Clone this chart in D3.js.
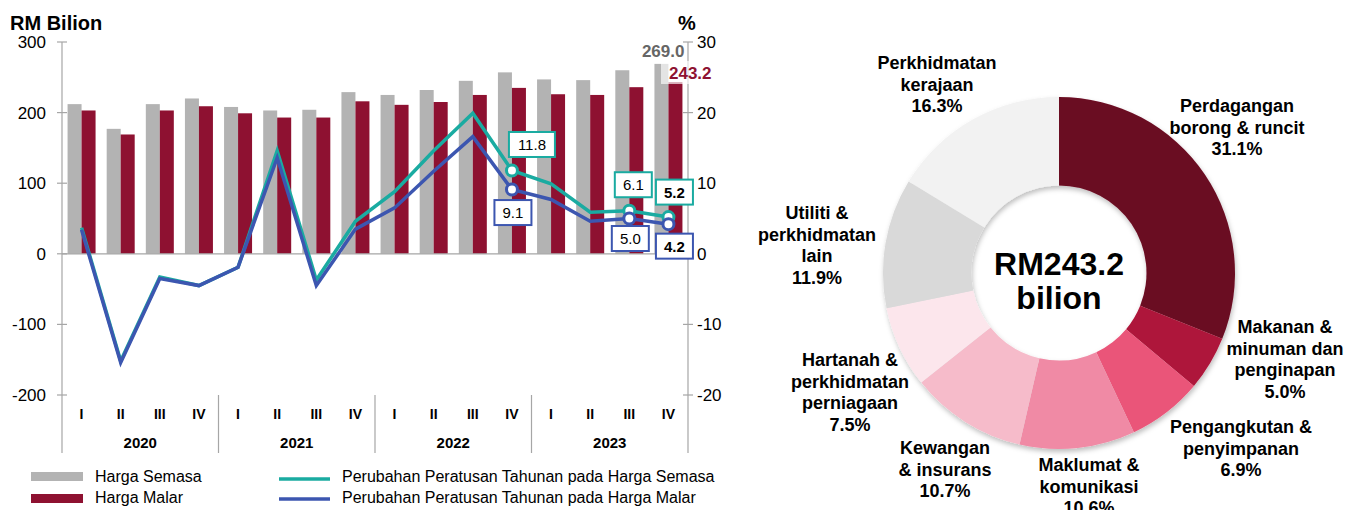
<!DOCTYPE html>
<html>
<head>
<meta charset="utf-8">
<script src="https://cdn.jsdelivr.net/npm/d3@7"></script>
<style>
  html, body { margin: 0; padding: 0; background: #fff; }
  svg { display: block; font-family: "Liberation Sans", Arial, sans-serif; }
</style>
</head>
<body>
<svg id="chart" width="1359" height="510"></svg>
<script>
// ---- data ----
const years = ["2020", "2021", "2022", "2023"];
const quarters = ["I", "II", "III", "IV"];
const hargaSemasa = [212, 177, 212, 220, 208, 203, 204, 229, 225, 232, 245, 257, 247, 246, 260, 269.0];
const hargaMalar  = [203, 169, 203, 209, 199, 193, 193, 216, 211, 215, 225, 235, 226, 225, 236, 243.2];
const pctSemasa = [3.7, -15.2, -3.3, -4.5, -1.9, 14.6, -3.7, 4.6, 8.8, 14.6, 19.9, 11.8, 9.9, 5.9, 6.1, 5.2];
const pctMalar  = [3.4, -15.4, -3.5, -4.5, -1.9, 13.6, -4.5, 3.5, 6.5, 11.7, 16.6, 9.1, 7.7, 4.6, 5.0, 4.2];
const leftTicks = [300, 200, 100, 0, -100, -200];
const rightTicks = [30, 20, 10, 0, -10, -20];

const sectors = [
  ["Perdagangan", "borong & runcit"],
  ["Makanan &", "minuman dan", "penginapan"],
  ["Pengangkutan &", "penyimpanan"],
  ["Maklumat &", "komunikasi"],
  ["Kewangan", "& insurans"],
  ["Hartanah &", "perkhidmatan", "perniagaan"],
  ["Utiliti &", "perkhidmatan", "lain"],
  ["Perkhidmatan", "kerajaan"]
];
const sectorShare = [31.1, 5.0, 6.9, 10.6, 10.7, 7.5, 11.9, 16.3];
const sectorColors = ["#6b0b22", "#ae163a", "#ea5479", "#f08aa5", "#f6bbca", "#fce6ec", "#d9d9d9", "#f2f2f2"];
const totalLabel = ["RM243.2", "bilion"];

// ---- layout ----
const svg = d3.select("#chart");
const axisColor = "#a6a6a6";
const teal = "#1aaba1";
const blue = "#3c56b0";
const grey = "#b3b3b3";
const maroon = "#8e1131";

const keys = d3.range(16);
const x = d3.scaleBand().domain(keys).range([62, 688]);
const yL = d3.scaleLinear().domain([-200, 300]).range([395, 42]);
const yR = d3.scaleLinear().domain([-20, 30]).range([395, 42]);
const xs = d3.scaleBand().domain(["s", "m"]).range([0, 28]);
const off = (x.bandwidth() - 28) / 2;

const chart = svg.append("g");

// bars
const bars = chart.append("g");
bars.selectAll(".bs").data(hargaSemasa).join("rect")
  .attr("x", (d, i) => x(i) + off + xs("s"))
  .attr("width", xs.bandwidth())
  .attr("y", d => yL(d))
  .attr("height", d => yL(0) - yL(d))
  .attr("fill", grey);
bars.selectAll(".bm").data(hargaMalar).join("rect")
  .attr("x", (d, i) => x(i) + off + xs("m"))
  .attr("width", xs.bandwidth())
  .attr("y", d => yL(d))
  .attr("height", d => yL(0) - yL(d))
  .attr("fill", maroon);

// zero line
chart.append("line")
  .attr("x1", 62).attr("x2", 688)
  .attr("y1", yL(0)).attr("y2", yL(0))
  .attr("stroke", axisColor).attr("stroke-width", 1.2);

// axes
const leftAxis = chart.append("g");
leftAxis.append("line").attr("x1", 62).attr("x2", 62).attr("y1", yL(300)).attr("y2", 453)
  .attr("stroke", axisColor).attr("stroke-width", 1.2);
leftAxis.selectAll(".t").data(leftTicks).join("line")
  .attr("x1", 57).attr("x2", 67).attr("y1", d => yL(d)).attr("y2", d => yL(d))
  .attr("stroke", axisColor).attr("stroke-width", 1.2);
leftAxis.selectAll("text").data(leftTicks).join("text")
  .attr("x", 46).attr("y", d => yL(d) + 6)
  .attr("text-anchor", "end").attr("font-size", 17).attr("fill", "#000")
  .text(d => d);

const rightAxis = chart.append("g");
rightAxis.append("line").attr("x1", 688).attr("x2", 688).attr("y1", yR(30)).attr("y2", 453)
  .attr("stroke", axisColor).attr("stroke-width", 1.2);
rightAxis.selectAll(".t").data(rightTicks).join("line")
  .attr("x1", 683).attr("x2", 693).attr("y1", d => yR(d)).attr("y2", d => yR(d))
  .attr("stroke", axisColor).attr("stroke-width", 1.2);
rightAxis.selectAll("text").data(rightTicks).join("text")
  .attr("x", 697).attr("y", d => yR(d) + 6)
  .attr("font-size", 17).attr("fill", "#000")
  .text(d => d);

// category axis
const cat = chart.append("g");
cat.selectAll(".q").data(keys).join("text")
  .attr("x", d => x(d) + x.bandwidth() / 2)
  .attr("y", 419)
  .attr("text-anchor", "middle").attr("font-size", 14).attr("font-weight", "bold")
  .text(d => quarters[d % 4]);
cat.selectAll(".y").data(years).join("text")
  .attr("x", (d, i) => x(i * 4) + x.bandwidth() * 2)
  .attr("y", 448)
  .attr("text-anchor", "middle").attr("font-size", 15).attr("font-weight", "bold")
  .text(d => d);
cat.selectAll(".sep").data([1, 2, 3]).join("line")
  .attr("x1", d => x(d * 4)).attr("x2", d => x(d * 4))
  .attr("y1", yL(-200)).attr("y2", 453)
  .attr("stroke", axisColor).attr("stroke-width", 1.2);

// axis titles
svg.append("text").attr("x", 10).attr("y", 30).attr("font-size", 20).attr("font-weight", "bold").text("RM Bilion");
svg.append("text").attr("x", 678).attr("y", 30).attr("font-size", 20).attr("font-weight", "bold").text("%");

// lines
const line = yScale => d3.line().x((d, i) => x(i) + x.bandwidth() / 2).y(d => yScale(d));
chart.append("path").datum(pctSemasa).attr("d", line(yR))
  .attr("fill", "none").attr("stroke", teal).attr("stroke-width", 3.5);
chart.append("path").datum(pctMalar).attr("d", line(yR))
  .attr("fill", "none").attr("stroke", blue).attr("stroke-width", 3.5);

// callouts
const callouts = [
  { i: 11, s: pctSemasa, c: teal, dx: 20, dy: -26, bold: false },
  { i: 11, s: pctMalar,  c: blue, dx: 1,  dy: 23,  bold: false },
  { i: 14, s: pctSemasa, c: teal, dx: 4,  dy: -26, bold: false },
  { i: 14, s: pctMalar,  c: blue, dx: 1,  dy: 20,  bold: false },
  { i: 15, s: pctSemasa, c: teal, dx: 6,  dy: -25, bold: true },
  { i: 15, s: pctMalar,  c: blue, dx: 6,  dy: 22,  bold: true }
];
const cg = chart.append("g");
callouts.forEach(o => {
  const cx = x(o.i) + x.bandwidth() / 2;
  const cy = yR(o.s[o.i]);
  cg.append("circle").attr("cx", cx).attr("cy", cy).attr("r", 5.5)
    .attr("fill", "#fff").attr("stroke", o.c).attr("stroke-width", 3);
});
callouts.forEach(o => {
  const cx = x(o.i) + x.bandwidth() / 2 + o.dx;
  const cy = yR(o.s[o.i]) + o.dy;
  const label = o.s[o.i].toFixed(1);
  const w = label.length > 3 ? 46 : 37;
  cg.append("rect").attr("x", cx - w / 2).attr("y", cy - 12.5).attr("width", w).attr("height", 25)
    .attr("fill", "#fff").attr("stroke", o.c).attr("stroke-width", 2);
  cg.append("text").attr("x", cx).attr("y", cy + 5.5)
    .attr("text-anchor", "middle").attr("font-size", 15)
    .attr("font-weight", o.bold ? "bold" : "normal").text(label);
});

// last value labels
const last = hargaSemasa.length - 1;
chart.append("rect").attr("x", 661).attr("y", 61).attr("width", 57).attr("height", 23)
  .attr("fill", "#fff").attr("opacity", 0.65);
chart.append("text").attr("x", x(last) + x.bandwidth() / 2 + 16).attr("y", yL(hargaSemasa[last]) - 7)
  .attr("text-anchor", "end").attr("font-size", 17).attr("font-weight", "bold").attr("fill", "#666")
  .text(hargaSemasa[last].toFixed(1));
chart.append("text").attr("x", 669).attr("y", 79)
  .attr("font-size", 17).attr("font-weight", "bold").attr("fill", maroon)
  .text(hargaMalar[last].toFixed(1));

// legend
const lg = svg.append("g").attr("font-size", 16);
lg.append("rect").attr("x", 31).attr("y", 472).attr("width", 52).attr("height", 9).attr("fill", grey);
lg.append("rect").attr("x", 31).attr("y", 494).attr("width", 52).attr("height", 9).attr("fill", maroon);
lg.append("text").attr("x", 95).attr("y", 482).text("Harga Semasa");
lg.append("text").attr("x", 95).attr("y", 503).text("Harga Malar");
lg.append("line").attr("x1", 279).attr("x2", 330).attr("y1", 479).attr("y2", 479).attr("stroke", teal).attr("stroke-width", 3.5);
lg.append("line").attr("x1", 279).attr("x2", 330).attr("y1", 499).attr("y2", 499).attr("stroke", blue).attr("stroke-width", 3.5);
lg.append("text").attr("x", 342).attr("y", 482).text("Perubahan Peratusan Tahunan pada Harga Semasa");
lg.append("text").attr("x", 342).attr("y", 503).text("Perubahan Peratusan Tahunan pada Harga Malar");

// ---- donut ----
const defs = svg.append("defs");
const f = defs.append("filter").attr("id", "shadow").attr("x", "-20%").attr("y", "-20%").attr("width", "140%").attr("height", "140%");
f.append("feDropShadow").attr("dx", 1).attr("dy", 3).attr("stdDeviation", 2.5).attr("flood-color", "#000").attr("flood-opacity", 0.25);

const cx0 = 1059, cy0 = 273;
const pie = d3.pie().sort(null).value(d => d);
const arc = d3.arc().innerRadius(87.5).outerRadius(176);
const donut = svg.append("g").attr("transform", `translate(${cx0},${cy0})`);
donut.append("g").attr("filter", "url(#shadow)")
  .selectAll("path").data(pie(sectorShare)).join("path")
  .attr("d", arc)
  .attr("fill", (d, i) => sectorColors[i]);

donut.append("text").attr("y", 2).attr("text-anchor", "middle")
  .attr("font-size", 32).attr("font-weight", "bold").text(totalLabel[0]);
donut.append("text").attr("y", 36).attr("text-anchor", "middle")
  .attr("font-size", 32).attr("font-weight", "bold").text(totalLabel[1]);

// label anchors (centre x, first line y)
const labelPos = [[1237, 106], [1285, 327], [1241, 427], [1089, 465], [945, 448], [850, 360], [817, 213], [937, 63]];
const lab = svg.append("g").attr("font-size", 18).attr("font-weight", "bold").attr("text-anchor", "middle");
sectors.forEach((lines, i) => {
  const t = lab.append("text").attr("x", labelPos[i][0]).attr("y", labelPos[i][1] + 6);
  lines.concat([sectorShare[i].toFixed(1) + "%"]).forEach((s, k) => {
    t.append("tspan").attr("x", labelPos[i][0]).attr("dy", k === 0 ? 0 : 21.5).text(s);
  });
});
</script>
</body>
</html>
